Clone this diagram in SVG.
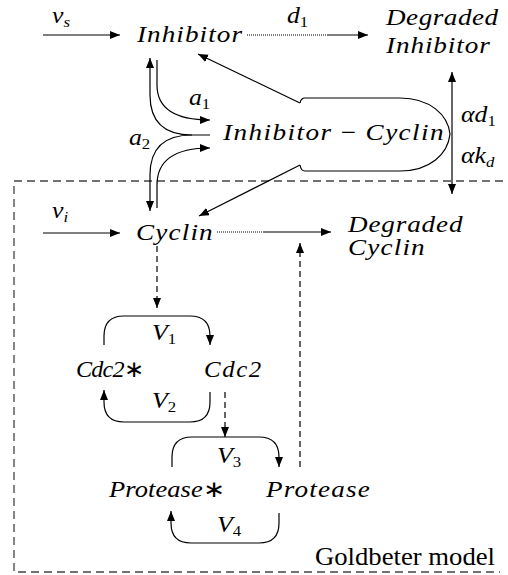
<svg xmlns="http://www.w3.org/2000/svg" width="508" height="575" viewBox="0 0 508 575">
<style>
.c{fill:none;stroke:#000;stroke-width:1.2}
.dot{fill:none;stroke:#000;stroke-width:1.2;stroke-dasharray:1 1}
.dash{fill:none;stroke:#000;stroke-width:1.2;stroke-dasharray:6 4}
.box{fill:none;stroke:#444;stroke-width:1.3;stroke-dasharray:8 5}
</style>
<defs>
<marker id="ah" markerUnits="userSpaceOnUse" markerWidth="12" markerHeight="10" refX="10" refY="4" orient="auto" viewBox="0 0 12 10">
<path d="M0,0 L10,4 L0,8 Z" fill="#000"/>
</marker>
</defs>

<g id="frame">
<path class="box" d="M503,181 L14,181 L14,572 L500,572"/>
<text font-family="Liberation Serif, serif" font-size="26" x="315" y="565" textLength="180" lengthAdjust="spacingAndGlyphs">Goldbeter model</text>
</g>

<g id="connectors">
<path class="c" d="M43,35 L120,35" marker-end="url(#ah)"/>
<path class="dot" d="M247,35 L327,35"/>
<path class="c" d="M327,35 L368,35" marker-end="url(#ah)"/>
<path class="c" d="M300,103 L198,54" marker-end="url(#ah)"/>
<path class="c" d="M300,165 L199,216" marker-end="url(#ah)"/>
<path class="c" d="M452,134 L452,72" marker-end="url(#ah)"/>
<path class="c" d="M452,134 L452,194" marker-end="url(#ah)"/>
<path class="c" d="M157,60 L157,85 Q157,120 210,120" marker-end="url(#ah)"/>
<path class="c" d="M210,135 L192,135 Q150,135 150,95 L150,58" marker-end="url(#ah)"/>
<path class="c" d="M192,135 Q150,135 150,175 L150,211" marker-end="url(#ah)"/>
<path class="c" d="M157,208 L157,185 Q157,148 210,148" marker-end="url(#ah)"/>
<path class="c" d="M43,233 L120,233" marker-end="url(#ah)"/>
<path class="dot" d="M217,232 L263,232"/>
<path class="c" d="M263,232 L331,232" marker-end="url(#ah)"/>
<path class="dash" d="M157,246 L157,308" marker-end="url(#ah)"/>
<path class="c" d="M104,345 L104,336 Q104,316 124,316 L190,316 Q210,316 210,336 L210,345" marker-end="url(#ah)"/>
<path class="c" d="M210,392 L210,402 Q210,422 190,422 L124,422 Q104,422 104,402 L104,390" marker-end="url(#ah)"/>
<path class="dash" d="M225,392 L225,437" marker-end="url(#ah)"/>
<path class="c" d="M172,467 L172,457 Q172,437 192,437 L259,437 Q279,437 279,457 L279,467" marker-end="url(#ah)"/>
<path class="c" d="M279,513 L279,523 Q279,543 259,543 L191,543 Q171,543 171,523 L171,511" marker-end="url(#ah)"/>
<path class="dash" d="M300,467 L300,243" marker-end="url(#ah)"/>
<g font-family="Liberation Serif, serif" font-size="23" font-style="italic">
<text transform="translate(52,23) scale(1.12,1)">v<tspan font-size="15" dy="4">s</tspan></text>
<text transform="translate(287,23) scale(1.12,1)">d<tspan font-size="15" dy="4" font-style="normal">1</tspan></text>
<text transform="translate(189,105) scale(1.12,1)">a<tspan font-size="15" dy="4" font-style="normal">1</tspan></text>
<text transform="translate(129,145) scale(1.12,1)">a<tspan font-size="15" dy="4" font-style="normal">2</tspan></text>
<text transform="translate(461,122) scale(1.12,1)">αd<tspan font-size="15" dy="4" font-style="normal">1</tspan></text>
<text transform="translate(461,163) scale(1.12,1)">αk<tspan font-size="15" dy="4">d</tspan></text>
<text transform="translate(52,218) scale(1.12,1)">v<tspan font-size="15" dy="4">i</tspan></text>
<text transform="translate(152,340) scale(1.12,1)">V<tspan font-size="15" dy="4" font-style="normal">1</tspan></text>
<text transform="translate(152,408) scale(1.12,1)">V<tspan font-size="15" dy="4" font-style="normal">2</tspan></text>
<text transform="translate(217,463) scale(1.12,1)">V<tspan font-size="15" dy="4" font-style="normal">3</tspan></text>
<text transform="translate(217,532) scale(1.12,1)">V<tspan font-size="15" dy="4" font-style="normal">4</tspan></text>
</g>
</g>

<g font-family="Liberation Serif, serif" font-size="23" font-style="italic">
<g id="inhibitor"><text transform="translate(137,42) scale(1.18,1)" textLength="89" lengthAdjust="spacing">Inhibitor</text></g>
<g id="degraded-inhibitor">
<text transform="translate(386,25) scale(1.18,1)" textLength="95" lengthAdjust="spacing">Degraded</text>
<text transform="translate(386,53) scale(1.18,1)" textLength="88" lengthAdjust="spacing">Inhibitor</text>
</g>
<g id="complex">
<path class="c" d="M300,103 Q301,98 305,98 L400,98 C430,98 448,115 450,134 C448,154 430,171 400,171 L305,171 Q301,171 300,165"/>
<text transform="translate(223,140) scale(1.18,1)" textLength="187" lengthAdjust="spacing">Inhibitor <tspan font-style="normal">−</tspan> Cyclin</text>
</g>
<g id="cyclin"><text transform="translate(136,240) scale(1.18,1)" textLength="65" lengthAdjust="spacing">Cyclin</text></g>
<g id="degraded-cyclin">
<text transform="translate(348,232) scale(1.18,1)" textLength="97" lengthAdjust="spacing">Degraded</text>
<text transform="translate(348,255) scale(1.18,1)" textLength="65" lengthAdjust="spacing">Cyclin</text>
</g>
<g id="cdc2-star"><text transform="translate(76,377) scale(1.05,1)" textLength="65" lengthAdjust="spacing">Cdc2<tspan font-style="normal">∗</tspan></text></g>
<g id="cdc2"><text transform="translate(204,377) scale(1.08,1)" textLength="53" lengthAdjust="spacing">Cdc2</text></g>
<g id="protease-star"><text transform="translate(109,497) scale(1.15,1)" textLength="101" lengthAdjust="spacing">Protease<tspan font-style="normal">∗</tspan></text></g>
<g id="protease"><text transform="translate(266,497) scale(1.18,1)" textLength="88" lengthAdjust="spacing">Protease</text></g>
</g>
</svg>
